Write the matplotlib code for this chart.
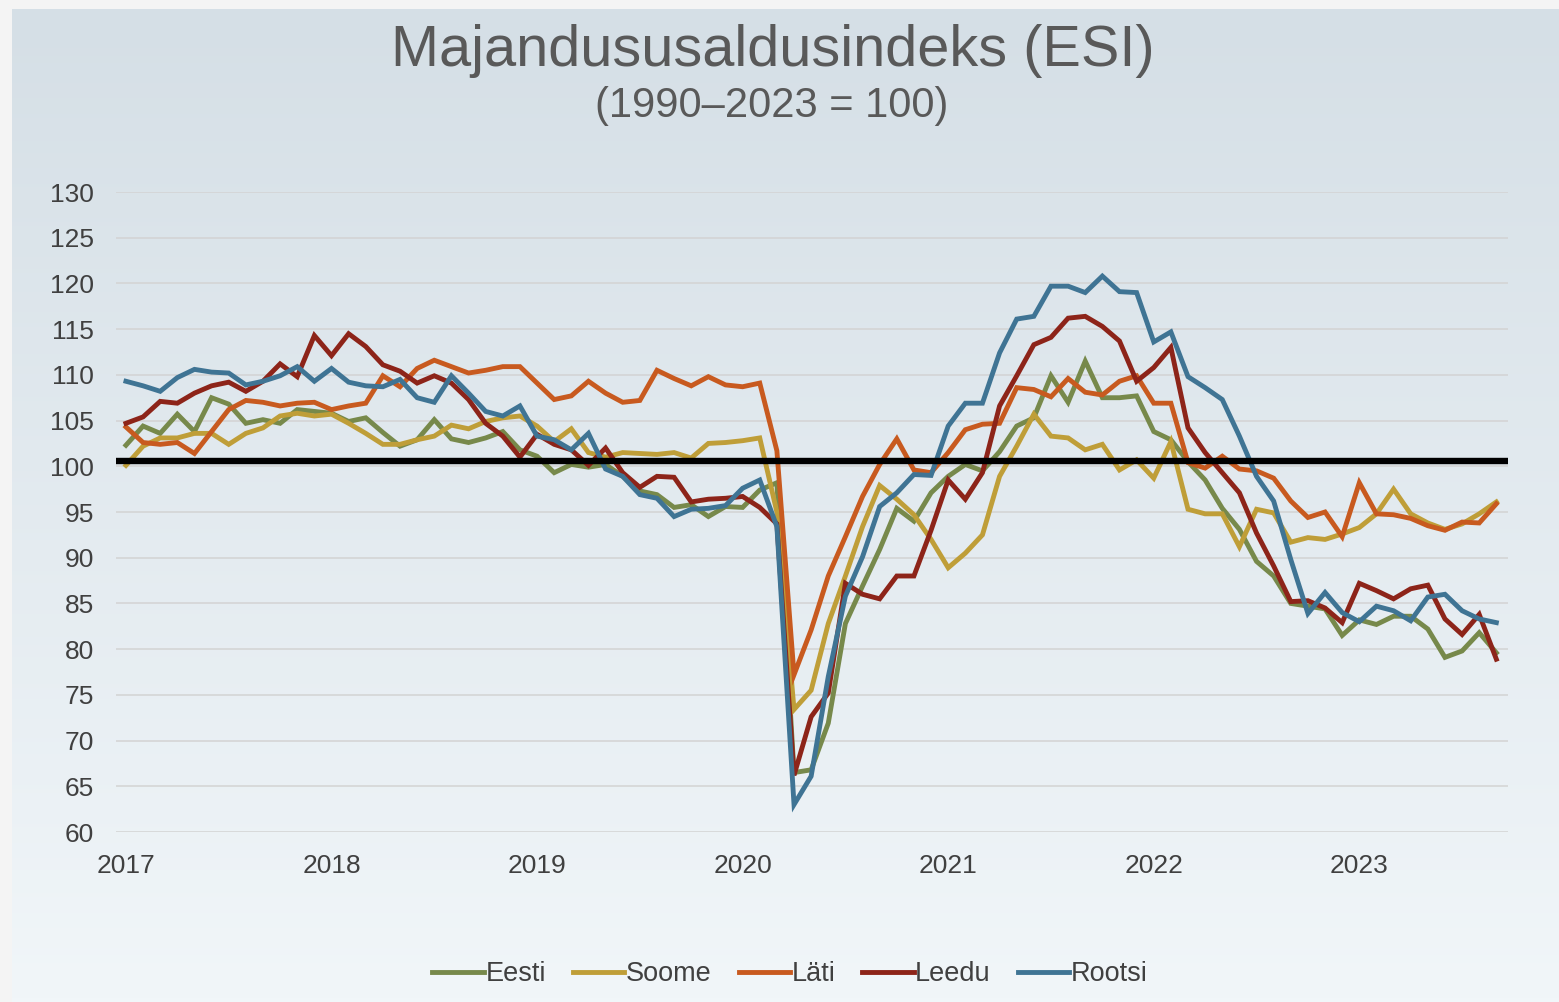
import numpy as np
import matplotlib
matplotlib.use("Agg")
from matplotlib import pyplot as plt

plt.rcParams['font.family'] = ['Liberation Sans', 'DejaVu Sans']

## data: monthly ESI, Jan 2017 .. Sep 2023 ##
years = ["2017", "2018", "2019", "2020", "2021", "2022", "2023"]
series_names = ["Eesti", "Soome", "Läti", "Leedu", "Rootsi"]

eesti = [102.3, 104.4, 103.6, 105.7, 103.8, 107.5, 106.8, 104.7, 105.1, 104.7,
         106.2, 106.0, 105.8, 104.9, 105.3, 103.7, 102.2, 102.9, 105.1, 103.0,
         102.6, 103.1, 103.8, 101.8, 101.1, 99.3, 100.2, 99.9, 100.2, 98.9,
         97.3, 96.9, 95.5, 95.8, 94.5, 95.6, 95.5, 97.4, 98.2, 66.5,
         66.8, 71.9, 82.8, 86.9, 90.9, 95.4, 94.0, 97.1, 98.9, 100.2,
         99.5, 101.6, 104.4, 105.3, 109.9, 107.0, 111.5, 107.5, 107.5, 107.7,
         103.8, 102.9, 100.5, 98.5, 95.4, 93.1, 89.6, 88.0, 85.0, 84.7,
         84.4, 81.5, 83.2, 82.7, 83.6, 83.6, 82.2, 79.1, 79.8, 81.8,
         79.6]
soome = [100.1, 102.2, 103.1, 103.1, 103.6, 103.6, 102.4, 103.6, 104.2, 105.5,
         105.8, 105.5, 105.7, 104.7, 103.6, 102.4, 102.4, 102.9, 103.3, 104.5,
         104.1, 104.9, 105.3, 105.5, 104.4, 102.7, 104.1, 101.5, 101.0, 101.5,
         101.4, 101.3, 101.5, 100.9, 102.5, 102.6, 102.8, 103.1, 95.0, 73.4,
         75.5, 82.8, 88.0, 93.4, 97.9, 96.4, 94.7, 92.0, 88.9, 90.5,
         92.5, 98.9, 102.2, 105.7, 103.3, 103.1, 101.8, 102.4, 99.6, 100.7,
         98.7, 102.7, 95.3, 94.8, 94.8, 91.2, 95.3, 94.9, 91.7, 92.2,
         92.0, 92.6, 93.3, 94.8, 97.5, 94.8, 93.8, 93.1, 93.7, 94.8,
         96.1]
lati = [104.3, 102.6, 102.4, 102.6, 101.4, 103.8, 106.2, 107.2, 107.0, 106.6,
        106.9, 107.0, 106.2, 106.6, 106.9, 109.9, 108.7, 110.7, 111.6, 110.9,
        110.2, 110.5, 110.9, 110.9, 109.1, 107.3, 107.7, 109.3, 108.0, 107.0,
        107.2, 110.5, 109.6, 108.8, 109.8, 108.9, 108.7, 109.1, 101.7, 77.2,
        82.1, 88.0, 92.3, 96.7, 100.2, 103.0, 99.6, 99.3, 101.5, 104.0,
        104.6, 104.7, 108.6, 108.4, 107.6, 109.6, 108.1, 107.8, 109.3, 109.9,
        106.9, 106.9, 100.4, 99.8, 101.1, 99.7, 99.5, 98.7, 96.2, 94.4,
        95.0, 92.3, 98.2, 94.8, 94.7, 94.3, 93.5, 93.0, 93.9, 93.8,
        95.9]
leedu = [104.7, 105.4, 107.1, 106.9, 108.0, 108.8, 109.2, 108.2, 109.3, 111.2,
         109.8, 114.3, 112.1, 114.5, 113.1, 111.1, 110.4, 109.1, 109.9, 109.1,
         107.3, 104.7, 103.3, 101.0, 103.5, 102.4, 101.8, 100.1, 102.0, 99.3,
         97.7, 98.9, 98.8, 96.1, 96.4, 96.5, 96.7, 95.5, 93.7, 66.2,
         72.6, 75.2, 87.2, 86.0, 85.5, 88.0, 88.0, 93.0, 98.5, 96.4,
         99.3, 106.6, 109.9, 113.3, 114.1, 116.2, 116.4, 115.3, 113.7, 109.3,
         110.8, 113.0, 104.2, 101.5, 99.3, 97.1, 92.7, 89.1, 85.2, 85.3,
         84.5, 82.9, 87.2, 86.4, 85.5, 86.6, 87.0, 83.3, 81.6, 83.8,
         78.9]
rootsi = [109.3, 108.8, 108.2, 109.7, 110.6, 110.3, 110.2, 108.9, 109.3, 109.9,
          110.9, 109.3, 110.7, 109.2, 108.8, 108.7, 109.5, 107.5, 107.0, 109.9,
          108.0, 106.0, 105.5, 106.6, 103.3, 102.9, 101.8, 103.6, 99.7, 98.9,
          96.9, 96.5, 94.5, 95.3, 95.4, 95.7, 97.6, 98.5, 93.4, 63.0,
          66.1, 77.0, 85.8, 90.1, 95.6, 97.1, 99.1, 99.0, 104.4, 106.9,
          106.9, 112.4, 116.1, 116.4, 119.7, 119.7, 119.0, 120.8, 119.1, 119.0,
          113.6, 114.7, 109.8, 108.6, 107.3, 103.3, 98.9, 96.2, 89.8, 83.9,
          86.2, 84.0, 83.0, 84.7, 84.2, 83.1, 85.7, 86.0, 84.2, 83.3,
          82.9]

colors = ["#77894b", "#bf9e38", "#c85a1f", "#8d2419", "#3f7494"]
months = np.arange(len(eesti))

W, H = 1559, 1002
fig = plt.figure(figsize=(W / 100, H / 100), dpi=100)
fig.patch.set_facecolor("#f4f4f4")

## gradient background panel ##
bg = fig.add_axes([12 / W, 0, 1 - 12 / W, 1 - 9 / H])
top_c = np.array([213, 223, 230]) / 255
bot_c = np.array([241, 246, 249]) / 255
t = np.linspace(0, 1, 256)[:, None, None]
bg.imshow(top_c + (bot_c - top_c) * t, aspect="auto", extent=[0, 1, 0, 1])
bg.axis("off")

## main chart ##
ax = fig.add_axes([116 / W, (H - 832) / H, (1508 - 116) / W, (832 - 192) / H])
ax.set_facecolor("none")
for name, vals, c in zip(series_names, [eesti, soome, lati, leedu, rootsi], colors):
    ax.plot(months, vals, color=c, lw=3.5, label=name, solid_joinstyle="miter")
ax.axhline(100.6, color="black", lw=4.6, zorder=5)

ax.set_xlim(-0.58, 80.68)
ax.set_ylim(60, 130)
ax.set_yticks(range(60, 131, 5))
ax.set_xticks(np.arange(0, 73, 12))
ax.set_xticklabels(years)
ax.grid(axis="y", color="#d3d3d3", lw=1.1)
ax.set_axisbelow(True)
for s in ax.spines.values():
    s.set_visible(False)
ax.tick_params(length=0, labelsize=19, labelcolor="#404040")
ax.tick_params(axis="y", pad=16)
ax.tick_params(axis="x", pad=16)

## titles ##
fig.text(773 / W, 1 - 66 / H, "Majandususaldusindeks (ESI)", ha="center",
         va="baseline", fontsize=41.5, color="#595959")
fig.text(772 / W, 1 - 117 / H, "(1990–2023 = 100)", ha="center",
         va="baseline", fontsize=30, color="#595959")

fig.legend(loc="center", bbox_to_anchor=(790 / W, 1 - 974 / H), ncol=5,
           frameon=False, fontsize=19.5, labelcolor="#404040", handlelength=1.9,
           handletextpad=0.05, columnspacing=1.0)

fig.savefig("out.png", dpi=100, facecolor=fig.get_facecolor())
